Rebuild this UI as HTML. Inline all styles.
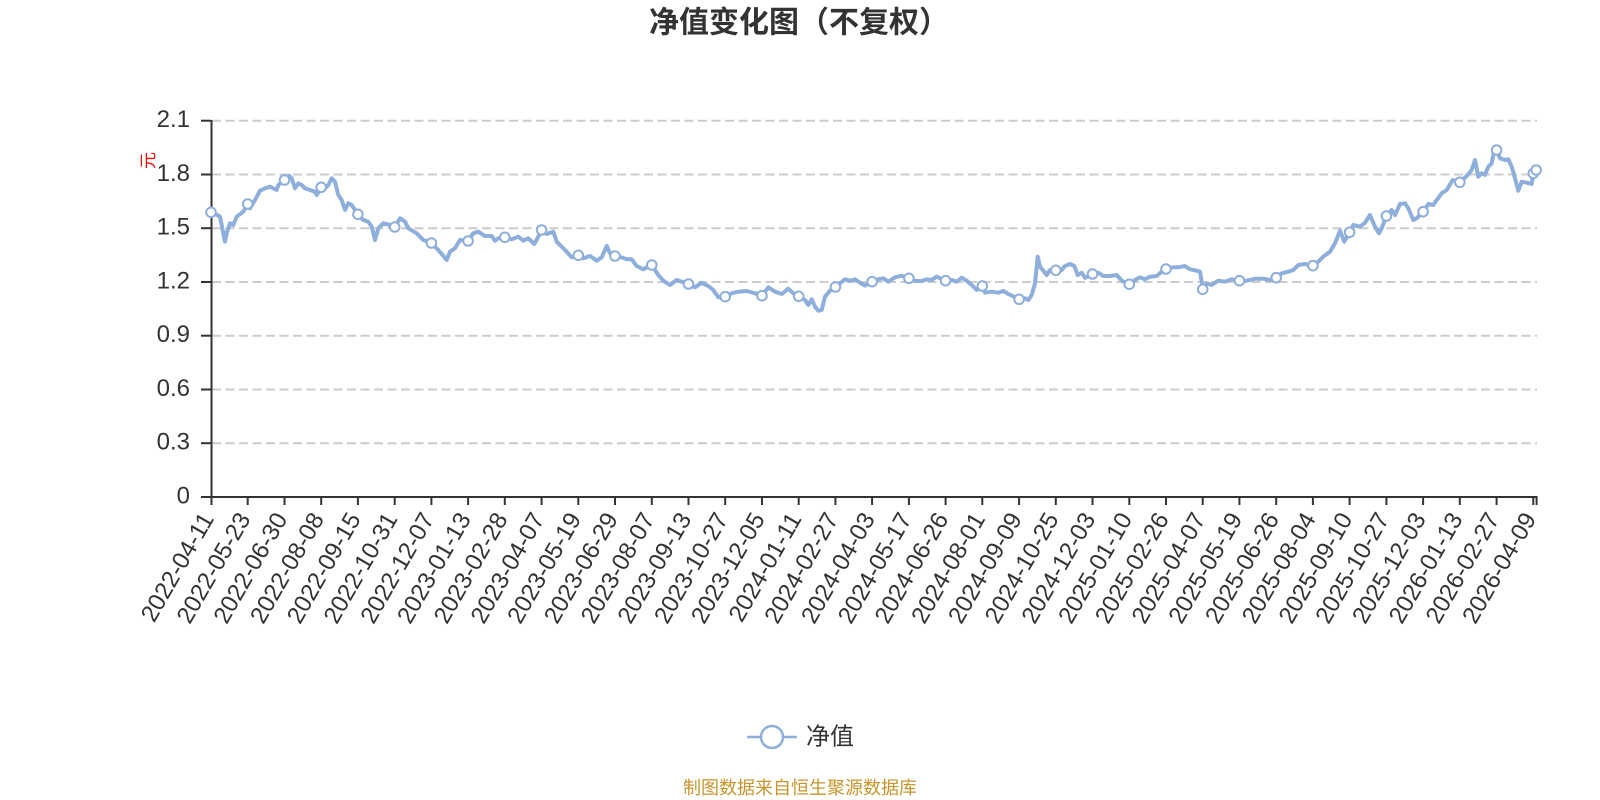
<!DOCTYPE html>
<html><head><meta charset="utf-8"><style>
html,body{margin:0;padding:0;background:#fff;}
svg{display:block;}
text{font-family:"Liberation Sans","Noto Sans CJK SC",sans-serif;}
</style></head><body>
<svg width="1600" height="800" viewBox="0 0 1600 800" xmlns="http://www.w3.org/2000/svg">
<rect width="1600" height="800" fill="#fff"/>
<text x="799" y="23" text-anchor="middle" dominant-baseline="central" font-size="30" font-weight="bold" fill="#333">净值变化图（不复权）</text>

<g stroke="#cccccc" stroke-width="2" stroke-dasharray="9,4.5">
<line x1="212" y1="443.2" x2="1537" y2="443.2"/>
<line x1="212" y1="389.5" x2="1537" y2="389.5"/>
<line x1="212" y1="335.7" x2="1537" y2="335.7"/>
<line x1="212" y1="282.0" x2="1537" y2="282.0"/>
<line x1="212" y1="228.2" x2="1537" y2="228.2"/>
<line x1="212" y1="174.5" x2="1537" y2="174.5"/>
<line x1="212" y1="120.7" x2="1537" y2="120.7"/>
</g>

<g stroke="#333" stroke-width="2">
<line x1="211.5" y1="120" x2="211.5" y2="497"/>
<line x1="211" y1="497" x2="1537.5" y2="497"/>
<line x1="201" y1="497" x2="211" y2="497"/>
<line x1="201" y1="443.2" x2="211" y2="443.2"/>
<line x1="201" y1="389.5" x2="211" y2="389.5"/>
<line x1="201" y1="335.7" x2="211" y2="335.7"/>
<line x1="201" y1="282.0" x2="211" y2="282.0"/>
<line x1="201" y1="228.2" x2="211" y2="228.2"/>
<line x1="201" y1="174.5" x2="211" y2="174.5"/>
<line x1="201" y1="120.7" x2="211" y2="120.7"/>
</g>
<g stroke="#333" stroke-width="2">
<line x1="211.5" y1="497" x2="211.5" y2="505"/>
<line x1="247.7" y1="497" x2="247.7" y2="505"/>
<line x1="284.5" y1="497" x2="284.5" y2="505"/>
<line x1="321.2" y1="497" x2="321.2" y2="505"/>
<line x1="357.9" y1="497" x2="357.9" y2="505"/>
<line x1="394.7" y1="497" x2="394.7" y2="505"/>
<line x1="431.4" y1="497" x2="431.4" y2="505"/>
<line x1="468.1" y1="497" x2="468.1" y2="505"/>
<line x1="504.8" y1="497" x2="504.8" y2="505"/>
<line x1="541.6" y1="497" x2="541.6" y2="505"/>
<line x1="578.3" y1="497" x2="578.3" y2="505"/>
<line x1="615.0" y1="497" x2="615.0" y2="505"/>
<line x1="651.8" y1="497" x2="651.8" y2="505"/>
<line x1="688.5" y1="497" x2="688.5" y2="505"/>
<line x1="725.2" y1="497" x2="725.2" y2="505"/>
<line x1="762.0" y1="497" x2="762.0" y2="505"/>
<line x1="798.7" y1="497" x2="798.7" y2="505"/>
<line x1="835.4" y1="497" x2="835.4" y2="505"/>
<line x1="872.1" y1="497" x2="872.1" y2="505"/>
<line x1="908.9" y1="497" x2="908.9" y2="505"/>
<line x1="945.6" y1="497" x2="945.6" y2="505"/>
<line x1="982.3" y1="497" x2="982.3" y2="505"/>
<line x1="1019.1" y1="497" x2="1019.1" y2="505"/>
<line x1="1055.8" y1="497" x2="1055.8" y2="505"/>
<line x1="1092.5" y1="497" x2="1092.5" y2="505"/>
<line x1="1129.3" y1="497" x2="1129.3" y2="505"/>
<line x1="1166.0" y1="497" x2="1166.0" y2="505"/>
<line x1="1202.7" y1="497" x2="1202.7" y2="505"/>
<line x1="1239.4" y1="497" x2="1239.4" y2="505"/>
<line x1="1276.2" y1="497" x2="1276.2" y2="505"/>
<line x1="1312.9" y1="497" x2="1312.9" y2="505"/>
<line x1="1349.6" y1="497" x2="1349.6" y2="505"/>
<line x1="1386.4" y1="497" x2="1386.4" y2="505"/>
<line x1="1423.1" y1="497" x2="1423.1" y2="505"/>
<line x1="1459.8" y1="497" x2="1459.8" y2="505"/>
<line x1="1496.6" y1="497" x2="1496.6" y2="505"/>
<line x1="1533.3" y1="497" x2="1533.3" y2="505"/>
<line x1="1536.6" y1="497" x2="1536.6" y2="505"/>
</g>

<g font-size="24" fill="#333" text-anchor="end" dominant-baseline="central">
<text x="190" y="496">0</text>
<text x="190" y="442.2">0.3</text>
<text x="190" y="388.5">0.6</text>
<text x="190" y="334.7">0.9</text>
<text x="190" y="281.0">1.2</text>
<text x="190" y="227.2">1.5</text>
<text x="190" y="173.5">1.8</text>
<text x="190" y="119.7">2.1</text>
</g>
<text transform="translate(148.5,160.5) rotate(-90)" text-anchor="middle" dominant-baseline="central" font-size="17" fill="#ff0000">元</text>

<g font-size="24" fill="#333" text-anchor="end" dominant-baseline="central">
<text transform="translate(208,515) rotate(-60)">2022-04-11</text>
<text transform="translate(244.7,515) rotate(-60)">2022-05-23</text>
<text transform="translate(281.5,515) rotate(-60)">2022-06-30</text>
<text transform="translate(318.2,515) rotate(-60)">2022-08-08</text>
<text transform="translate(354.9,515) rotate(-60)">2022-09-15</text>
<text transform="translate(391.7,515) rotate(-60)">2022-10-31</text>
<text transform="translate(428.4,515) rotate(-60)">2022-12-07</text>
<text transform="translate(465.1,515) rotate(-60)">2023-01-13</text>
<text transform="translate(501.8,515) rotate(-60)">2023-02-28</text>
<text transform="translate(538.6,515) rotate(-60)">2023-04-07</text>
<text transform="translate(575.3,515) rotate(-60)">2023-05-19</text>
<text transform="translate(612.0,515) rotate(-60)">2023-06-29</text>
<text transform="translate(648.8,515) rotate(-60)">2023-08-07</text>
<text transform="translate(685.5,515) rotate(-60)">2023-09-13</text>
<text transform="translate(722.2,515) rotate(-60)">2023-10-27</text>
<text transform="translate(759.0,515) rotate(-60)">2023-12-05</text>
<text transform="translate(795.7,515) rotate(-60)">2024-01-11</text>
<text transform="translate(832.4,515) rotate(-60)">2024-02-27</text>
<text transform="translate(869.1,515) rotate(-60)">2024-04-03</text>
<text transform="translate(905.9,515) rotate(-60)">2024-05-17</text>
<text transform="translate(942.6,515) rotate(-60)">2024-06-26</text>
<text transform="translate(979.3,515) rotate(-60)">2024-08-01</text>
<text transform="translate(1016.1,515) rotate(-60)">2024-09-09</text>
<text transform="translate(1052.8,515) rotate(-60)">2024-10-25</text>
<text transform="translate(1089.5,515) rotate(-60)">2024-12-03</text>
<text transform="translate(1126.3,515) rotate(-60)">2025-01-10</text>
<text transform="translate(1163.0,515) rotate(-60)">2025-02-26</text>
<text transform="translate(1199.7,515) rotate(-60)">2025-04-07</text>
<text transform="translate(1236.4,515) rotate(-60)">2025-05-19</text>
<text transform="translate(1273.2,515) rotate(-60)">2025-06-26</text>
<text transform="translate(1309.9,515) rotate(-60)">2025-08-04</text>
<text transform="translate(1346.6,515) rotate(-60)">2025-09-10</text>
<text transform="translate(1383.4,515) rotate(-60)">2025-10-27</text>
<text transform="translate(1420.1,515) rotate(-60)">2025-12-03</text>
<text transform="translate(1456.8,515) rotate(-60)">2026-01-13</text>
<text transform="translate(1493.6,515) rotate(-60)">2026-02-27</text>
<text transform="translate(1530.3,515) rotate(-60)">2026-04-09</text>
</g>

<polyline fill="none" stroke="#8eaedc" stroke-width="4" stroke-linejoin="round" stroke-linecap="round" points="
211,212.3 217.3,215 220,216.7 225,241.7 226.7,233.3 230,223.3 233.3,225 236.7,216.7 243.3,211.7 247.7,204 250,208.3 255,200 260,190.7 265,188.3 270,186.7 276.7,190 278.3,185 284.5,180 289.3,176 291.7,178.3 295,188.3 298.3,183.3 301.7,185 305,188.3 310,190 315,191.7 316.7,195 321.2,187.3 325,188.3 328.3,185 331.7,178.3 335,181.7 338.3,195 341.7,200 345,210 348.3,203.3 351.7,205 357.9,214.3 363.3,220 368.3,221.7 371.7,226.7 375,240 378.3,228.3 383.3,223.3 390,225 394.7,227 400,218.3 405,221.7 408.3,228.3 416.7,233.3 423.3,240 431.4,243 438.3,250 446.7,260 450,251.7 455,248.3 460,240 468.1,241 473.3,233.3 478.3,231.7 485,236 491.7,236 495,240.7 498.3,238.3 504.8,237.3 511.7,239.3 518.3,236.7 523.3,240.7 528.3,238.3 534.3,244 538.3,236.7 541.6,230 546.7,234 553.3,231.7 556.7,241.7 560,245 565,250 571.7,257.3 578.3,255.3 583.3,258.3 590,256 596.7,260.7 601.7,257.3 606.7,246 610,253.3 615,256 621.7,257.3 626.7,259.3 631.7,259.3 636.7,266 643.3,269.3 645,268.3 651.8,265 658.3,275 663.3,280.7 670,285 676.7,280 681.7,281.7 688.5,284 695,287.3 701.7,282.7 708.3,286 713.3,290 718.3,297.3 725.2,296.7 731.7,293.3 738.3,291.7 746.7,291 755,293.3 762,295.7 768.3,287.3 775,291.7 781.7,294 788.3,288.7 793.3,293.3 798.7,296.3 805,300 808.3,305 811.7,299.3 815,306.7 818.3,310.7 821.7,310 825,296.7 830,290.7 835.4,287 840,283.3 845,279.3 850,280.7 855,279.3 860,282.7 865,285.5 872.1,281.7 878.3,279.3 883.3,278.3 888.3,281.7 895,277.3 901.7,275.7 908.9,278.3 915,281 921.7,281 926.7,279.3 931.7,280 936.7,276.7 945.6,280.7 951.7,280 956.7,281.7 961.7,277.7 966.7,280.7 971.7,285 976.7,290 982.3,286 985,292.7 991.7,291.7 998.3,292.7 1003.3,291 1008.3,294 1019.1,299.3 1025,298.3 1028.3,300 1031.7,295 1035,283.3 1037.7,256.7 1040,266.7 1043.3,270.7 1046.7,275 1050,270 1055.8,270.3 1061.7,270 1065,266 1070,264 1074.3,266 1077.7,275 1081.7,272.7 1085,277.8 1092.5,274 1098.3,272.7 1103.3,276 1110,276 1116.7,275 1121.7,280.7 1129.3,284.3 1135,280 1140,277.3 1145,279.3 1150,276.7 1156.7,276 1161.7,271.7 1166,269 1173.3,267.3 1178.3,267.3 1185,266 1190,269.3 1196.7,270.7 1200,271.7 1202,283.3 1202.7,289.3 1206.7,283.3 1211.7,285 1218.3,280.7 1225,281.7 1231.7,279.3 1239.4,280.7 1246.7,280.7 1255,278.7 1263.3,278.7 1270,280 1276.2,277.7 1281.7,273.3 1288.3,271.7 1293.3,270 1298.3,265 1305,264 1312.9,265.7 1318.3,261.7 1323.3,256.7 1330,251.7 1335,243.3 1340,230.7 1344.3,241.7 1349.6,232.3 1353.3,225 1360,226.7 1365,222.7 1370,215 1375,226.7 1379,233.3 1381.7,228.3 1386.4,216 1391.7,210 1395,215 1400,204 1405,203.3 1408.3,208.3 1413.3,220 1416.7,218.3 1423.1,211.7 1428.3,204 1433.3,205 1436.7,200 1441.7,193.3 1446.7,190 1452.7,180 1459.8,182.3 1466.7,176 1471.7,170 1475,160 1478.3,176.7 1481.7,173.3 1485,175 1488.3,166.7 1491.7,163.3 1494,151.7 1496.6,150 1500,158.3 1505,160 1508.3,159.3 1511.7,166.7 1515,178.3 1518.3,190.7 1521.7,181.7 1526.7,182.7 1531.7,184 1533.3,173.3 1536.2,170"/>

<g fill="#fff" stroke="#8eaedc" stroke-width="2">
<circle cx="211" cy="212.3" r="4.8"/>
<circle cx="247.7" cy="204" r="4.8"/>
<circle cx="284.5" cy="180" r="4.8"/>
<circle cx="321.2" cy="187.3" r="4.8"/>
<circle cx="357.9" cy="214.3" r="4.8"/>
<circle cx="394.7" cy="227" r="4.8"/>
<circle cx="431.4" cy="243" r="4.8"/>
<circle cx="468.1" cy="241" r="4.8"/>
<circle cx="504.8" cy="237.3" r="4.8"/>
<circle cx="541.6" cy="230" r="4.8"/>
<circle cx="578.3" cy="255.3" r="4.8"/>
<circle cx="615.0" cy="256" r="4.8"/>
<circle cx="651.8" cy="265" r="4.8"/>
<circle cx="688.5" cy="284" r="4.8"/>
<circle cx="725.2" cy="296.7" r="4.8"/>
<circle cx="762.0" cy="295.7" r="4.8"/>
<circle cx="798.7" cy="296.3" r="4.8"/>
<circle cx="835.4" cy="287" r="4.8"/>
<circle cx="872.1" cy="281.7" r="4.8"/>
<circle cx="908.9" cy="278.3" r="4.8"/>
<circle cx="945.6" cy="280.7" r="4.8"/>
<circle cx="982.3" cy="286" r="4.8"/>
<circle cx="1019.1" cy="299.3" r="4.8"/>
<circle cx="1055.8" cy="270.3" r="4.8"/>
<circle cx="1092.5" cy="274" r="4.8"/>
<circle cx="1129.3" cy="284.3" r="4.8"/>
<circle cx="1166.0" cy="269" r="4.8"/>
<circle cx="1202.7" cy="289.3" r="4.8"/>
<circle cx="1239.4" cy="280.7" r="4.8"/>
<circle cx="1276.2" cy="277.7" r="4.8"/>
<circle cx="1312.9" cy="265.7" r="4.8"/>
<circle cx="1349.6" cy="232.3" r="4.8"/>
<circle cx="1386.4" cy="216" r="4.8"/>
<circle cx="1423.1" cy="211.7" r="4.8"/>
<circle cx="1459.8" cy="182.3" r="4.8"/>
<circle cx="1496.6" cy="150" r="4.8"/>
<circle cx="1533.3" cy="173.3" r="4.8"/>
<circle cx="1536.2" cy="170" r="4.8"/>
</g>

<line x1="747" y1="737" x2="797" y2="737" stroke="#8eaedc" stroke-width="2.5"/>
<circle cx="772" cy="737" r="11" fill="#fff" stroke="#8eaedc" stroke-width="2.5"/>
<text x="806" y="737" dominant-baseline="central" font-size="24" fill="#333">净值</text>

<text x="800" y="788" text-anchor="middle" dominant-baseline="central" font-size="18" fill="#c8952c">制图数据来自恒生聚源数据库</text>
</svg>
</body></html>
